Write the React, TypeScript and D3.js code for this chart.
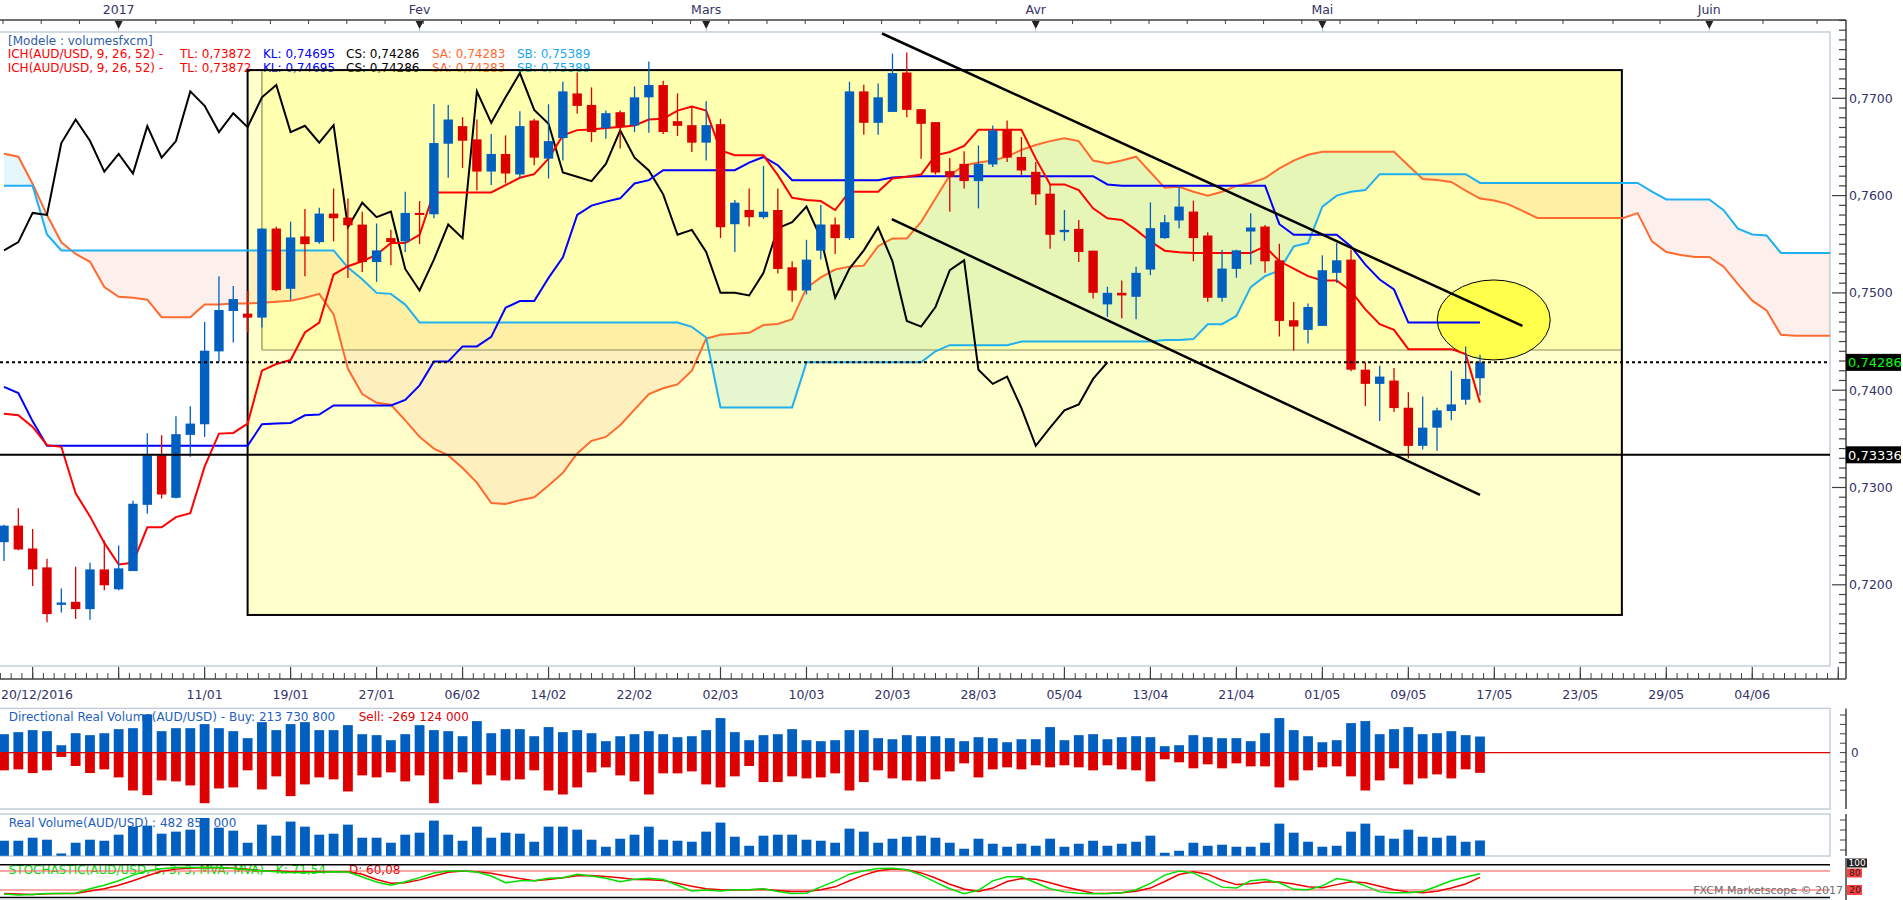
import React, { useEffect } from "react";
import * as d3 from "d3";

// AUD/USD daily, Ichimoku + volumes (FXCM Marketscope look)
// bar index -2 .. 101 for candles, -2 .. 127 for the forward cloud

const candleOpen = [
  0.72438, 0.72608, 0.72373, 0.72179, 0.71794, 0.71825, 0.7175, 0.72158, 0.71954, 0.72141,
  0.72822, 0.7333, 0.72894, 0.73541, 0.7365, 0.74399, 0.74814, 0.74787, 0.74746, 0.75661,
  0.75042, 0.7558, 0.75522, 0.75815, 0.75774, 0.75702, 0.75317, 0.75563, 0.75529, 0.75822,
  0.75808, 0.76533, 0.76714, 0.76578, 0.76247, 0.76428, 0.76217, 0.76772, 0.7638, 0.76591,
  0.7705, 0.76932, 0.76694, 0.76857, 0.76721, 0.7701, 0.77136, 0.76765, 0.76724, 0.76544,
  0.76734, 0.75706, 0.75852, 0.75778, 0.75852, 0.75263, 0.75025, 0.75434, 0.75703, 0.75563,
  0.77071, 0.76748, 0.7686, 0.77265, 0.76888, 0.76755, 0.76251, 0.76326, 0.76149, 0.7632,
  0.7668, 0.76397, 0.76244, 0.7602, 0.75624, 0.75658, 0.75434, 0.74882, 0.75001, 0.7496,
  0.7524, 0.75563, 0.75744, 0.75836, 0.7559, 0.7495, 0.75247, 0.75631, 0.75682, 0.75335,
  0.74719, 0.7462, 0.74661, 0.75206, 0.75342, 0.74211, 0.74065, 0.74099, 0.7382, 0.73428,
  0.73615, 0.73786, 0.73902, 0.74123,
];
const candleHigh = [
  0.72618, 0.72788, 0.72574, 0.72267, 0.71961, 0.72186, 0.72227, 0.72455, 0.72404, 0.72863,
  0.73558, 0.73537, 0.73731, 0.73834, 0.74702, 0.75172, 0.7507, 0.75019, 0.75661, 0.7568,
  0.75733, 0.75862, 0.75876, 0.76073, 0.75971, 0.75835, 0.75713, 0.75648, 0.7604, 0.75944,
  0.76942, 0.76932, 0.76806, 0.76782, 0.76632, 0.76619, 0.76867, 0.76789, 0.76939, 0.7717,
  0.77266, 0.77112, 0.76874, 0.76874, 0.77122, 0.77378, 0.7718, 0.77051, 0.76908, 0.76969,
  0.76789, 0.75955, 0.76074, 0.76305, 0.76074, 0.75325, 0.75546, 0.75904, 0.75774, 0.7717,
  0.7714, 0.77153, 0.7746, 0.7747, 0.76888, 0.76755, 0.76387, 0.76455, 0.76516, 0.76721,
  0.76772, 0.76602, 0.76346, 0.76108, 0.75852, 0.7575, 0.75434, 0.75063, 0.75127, 0.7527,
  0.75931, 0.75801, 0.76101, 0.75948, 0.75624, 0.75444, 0.75444, 0.75819, 0.75699, 0.75505,
  0.74906, 0.74892, 0.75386, 0.75512, 0.75444, 0.74286, 0.74252, 0.74228, 0.7398, 0.73936,
  0.7382, 0.74201, 0.7445, 0.74365,
];
const candleLow = [
  0.72244, 0.72356, 0.71988, 0.71614, 0.71716, 0.71648, 0.71641, 0.71944, 0.71944, 0.72141,
  0.7273, 0.72887, 0.72887, 0.73316, 0.7352, 0.74293, 0.74491, 0.74593, 0.74644, 0.75018,
  0.74926, 0.75171, 0.75505, 0.75529, 0.75154, 0.75215, 0.75113, 0.75284, 0.7542, 0.75502,
  0.75767, 0.76183, 0.76285, 0.76053, 0.76108, 0.76125, 0.76176, 0.76312, 0.76176, 0.7636,
  0.7684, 0.76551, 0.76585, 0.76483, 0.76653, 0.76646, 0.76632, 0.76612, 0.76448, 0.7636,
  0.75563, 0.7542, 0.75682, 0.75761, 0.752, 0.74909, 0.74984, 0.75342, 0.754, 0.75543,
  0.76625, 0.76625, 0.7686, 0.76806, 0.7638, 0.76217, 0.75833, 0.76074, 0.75869, 0.76295,
  0.76346, 0.7621, 0.75904, 0.75454, 0.75536, 0.75318, 0.74943, 0.74753, 0.74739, 0.74729,
  0.75182, 0.75556, 0.75665, 0.75325, 0.74909, 0.74909, 0.75155, 0.75291, 0.75206, 0.74552,
  0.74405, 0.7448, 0.74661, 0.75103, 0.74194, 0.73837, 0.73684, 0.73776, 0.73299, 0.7339,
  0.73377, 0.7369, 0.7385, 0.73946,
];
const candleClose = [
  0.72608, 0.72363, 0.72158, 0.71699, 0.71818, 0.7175, 0.72158, 0.71995, 0.72169, 0.72833,
  0.7333, 0.72928, 0.73548, 0.73657, 0.74406, 0.74824, 0.74937, 0.74746, 0.75661, 0.75028,
  0.7557, 0.75501, 0.75815, 0.75767, 0.75695, 0.75317, 0.75437, 0.75522, 0.75822, 0.75801,
  0.7654, 0.76782, 0.76564, 0.76247, 0.76428, 0.76227, 0.76714, 0.7639, 0.7656, 0.77071,
  0.76922, 0.76653, 0.76847, 0.76704, 0.7701, 0.77136, 0.76653, 0.76717, 0.76544, 0.76724,
  0.75675, 0.75927, 0.75778, 0.75835, 0.75246, 0.75025, 0.75342, 0.75703, 0.75563, 0.77071,
  0.76748, 0.7701, 0.77259, 0.76881, 0.76738, 0.76237, 0.76193, 0.76149, 0.76326, 0.7667,
  0.7639, 0.76258, 0.76013, 0.75597, 0.75648, 0.7542, 0.75001, 0.75001, 0.74974, 0.75206,
  0.75665, 0.75726, 0.75887, 0.75563, 0.7495, 0.7525, 0.75437, 0.75672, 0.75325, 0.74712,
  0.74654, 0.74855, 0.75233, 0.75335, 0.74211, 0.74065, 0.7414, 0.73816, 0.73428, 0.73615,
  0.73793, 0.73854, 0.74116, 0.74286,
];

const tenkan = [
  0.73759, 0.73742, 0.73622, 0.73435, 0.73418, 0.72941, 0.72703, 0.72431, 0.72209, 0.72226,
  0.72591, 0.72591, 0.72696, 0.72737, 0.73214, 0.73554, 0.73561, 0.73657, 0.74201, 0.74269,
  0.7431, 0.74593, 0.74695, 0.75189, 0.75274, 0.75325, 0.75392, 0.75512, 0.75512, 0.75597,
  0.76033, 0.76033, 0.76033, 0.76033, 0.76033, 0.76108, 0.76183, 0.7622, 0.7638, 0.76619,
  0.76673, 0.7668, 0.76694, 0.76704, 0.76721, 0.76782, 0.76789, 0.76874, 0.76915, 0.76874,
  0.76465, 0.76414, 0.76414, 0.76414, 0.7621, 0.75978, 0.75955, 0.75944, 0.75852, 0.7604,
  0.7604, 0.7604, 0.76176, 0.76193, 0.76217, 0.76414, 0.76448, 0.7651, 0.76677, 0.76677,
  0.76677, 0.76677, 0.7638, 0.76115, 0.76115, 0.76057, 0.75869, 0.75767, 0.7575, 0.75648,
  0.75529, 0.75434, 0.75417, 0.7541, 0.7541, 0.7541, 0.7541, 0.7541, 0.75478, 0.75325,
  0.7525, 0.75172, 0.75127, 0.75127, 0.75018, 0.74831, 0.74678, 0.7462, 0.74422, 0.74422,
  0.74422, 0.74422, 0.74371, 0.73872,
];
const kijun = [
  0.74035, 0.7397, 0.7368, 0.73428, 0.73428, 0.73428, 0.73428, 0.73428, 0.73428, 0.73428,
  0.73428, 0.73428, 0.73428, 0.73428, 0.73428, 0.73428, 0.73428, 0.73428, 0.7365, 0.73657,
  0.73663, 0.73742, 0.73749, 0.73844, 0.73844, 0.73844, 0.73844, 0.73844, 0.739, 0.7405,
  0.74296, 0.74296, 0.7445, 0.7445, 0.74548, 0.74848, 0.74916, 0.74916, 0.75154, 0.75365,
  0.75801, 0.75897, 0.75938, 0.75972, 0.76125, 0.76159, 0.76261, 0.76261, 0.76261, 0.76261,
  0.76261, 0.76261, 0.76339, 0.76397, 0.76312, 0.76159, 0.76159, 0.76159, 0.76159, 0.76159,
  0.76159, 0.76159, 0.76186, 0.76193, 0.762, 0.762, 0.762, 0.762, 0.762, 0.762,
  0.762, 0.762, 0.762, 0.762, 0.762, 0.762, 0.762, 0.76115, 0.76101, 0.76101,
  0.76101, 0.76101, 0.76101, 0.76101, 0.76101, 0.76101, 0.76101, 0.76101, 0.76101, 0.75706,
  0.75597, 0.75597, 0.75597, 0.75597, 0.75478, 0.75291, 0.75138, 0.75035, 0.74695, 0.74695,
  0.74695, 0.74695, 0.74695, 0.74695,
];
const senkouA = [
  0.7643, 0.764, 0.7612, 0.758, 0.7552, 0.754, 0.7532, 0.7506, 0.7496, 0.7495,
  0.7493, 0.7475, 0.7475, 0.7475, 0.7488, 0.7488, 0.7489, 0.7489, 0.749, 0.7491,
  0.7492, 0.7495, 0.7499, 0.7478, 0.7422, 0.7396, 0.7387, 0.7385, 0.7369, 0.7352,
  0.734, 0.7333, 0.732, 0.7305, 0.7284, 0.7283, 0.7287, 0.729, 0.7302, 0.7315,
  0.7335, 0.7348, 0.7352, 0.7364, 0.738, 0.7396, 0.7402, 0.7406, 0.742, 0.7453,
  0.7457, 0.7458, 0.7459, 0.7467, 0.7468, 0.7473, 0.7505, 0.7516, 0.7524, 0.7527,
  0.7528, 0.7548, 0.7556, 0.7556, 0.7573, 0.7597, 0.7621, 0.7631, 0.7634, 0.7636,
  0.764, 0.7647, 0.7652, 0.7656, 0.7659, 0.7656, 0.7636, 0.7633, 0.7636, 0.764,
  0.7624, 0.7608, 0.7609, 0.7604, 0.76, 0.7604, 0.761, 0.7613, 0.7618, 0.7628,
  0.7636, 0.7642, 0.7645, 0.7645, 0.7645, 0.7645, 0.7645, 0.7645, 0.7631, 0.7617,
  0.7616, 0.7614, 0.7605, 0.7597, 0.7595, 0.7591, 0.7584, 0.7577, 0.7577, 0.7577,
  0.7577, 0.7577, 0.7577, 0.7577, 0.7582, 0.7553, 0.7542, 0.7539, 0.7537, 0.7537,
  0.7527, 0.7509, 0.7492, 0.7482, 0.7457, 0.7456, 0.7456, 0.7456, 0.7456, 0.7456,
];
const senkouB = [
  0.761, 0.761, 0.761, 0.756, 0.75437, 0.75437, 0.75437, 0.75437, 0.75437, 0.75437,
  0.75437, 0.75437, 0.75437, 0.75437, 0.75437, 0.75437, 0.75437, 0.75437, 0.75437, 0.75437,
  0.75437, 0.75437, 0.75437, 0.75437, 0.7526, 0.7514, 0.75, 0.7499, 0.7488, 0.74695,
  0.74695, 0.74695, 0.74695, 0.74695, 0.74695, 0.74695, 0.74695, 0.74695, 0.74695, 0.74695,
  0.74695, 0.74695, 0.74695, 0.74695, 0.74695, 0.74695, 0.74695, 0.74695, 0.74651, 0.74541,
  0.73823, 0.73823, 0.73823, 0.73823, 0.73823, 0.73823, 0.74286, 0.74286, 0.74286, 0.74286,
  0.74286, 0.74286, 0.74286, 0.74286, 0.74286, 0.744, 0.74463, 0.74463, 0.74463, 0.74463,
  0.74463, 0.745, 0.745, 0.745, 0.745, 0.745, 0.745, 0.745, 0.745, 0.745,
  0.745, 0.74517, 0.74517, 0.74525, 0.74678, 0.74678, 0.74763, 0.75059, 0.75172, 0.7523,
  0.75478, 0.75512, 0.75887, 0.76, 0.7604, 0.76057, 0.7622, 0.7622, 0.7622, 0.7622,
  0.7622, 0.7622, 0.7622, 0.7613, 0.7613, 0.7613, 0.7613, 0.7613, 0.7613, 0.7613,
  0.7613, 0.7613, 0.7613, 0.7613, 0.7613, 0.7604, 0.7596, 0.7596, 0.7596, 0.7596,
  0.7585, 0.7566, 0.756, 0.7559, 0.7541, 0.7541, 0.7541, 0.7541, 0.7541, 0.7541,
];

// volumes in millions
const buyVolume = [
  245, 272, 299, 285, 98, 258, 232, 258, 312, 325,
  508, 285, 325, 325, 379, 325, 285, 192, 405, 299,
  379, 405, 299, 299, 365, 245, 232, 165, 245, 365,
  299, 285, 218, 419, 258, 312, 312, 218, 339, 272,
  299, 258, 152, 218, 245, 285, 245, 205, 218, 299,
  459, 272, 165, 232, 245, 312, 165, 152, 165, 299,
  299, 192, 178, 232, 218, 218, 192, 152, 205, 192,
  138, 178, 178, 339, 165, 232, 245, 178, 205, 218,
  205, 85, 98, 232, 205, 192, 192, 152, 258, 459,
  299, 218, 138, 165, 392, 419, 245, 312, 339, 245,
  258, 285, 232, 213.7,
];
const sellVolume = [
  236, 223, 272, 236, 58, 178, 272, 223, 330, 504,
  566, 370, 383, 437, 673, 477, 463, 236, 490, 316,
  579, 423, 330, 356, 517, 303, 330, 263, 383, 303,
  673, 356, 263, 423, 303, 370, 356, 236, 504, 557,
  463, 263, 196, 303, 383, 557, 276, 276, 250, 423,
  463, 316, 178, 392, 392, 316, 343, 330, 276, 504,
  392, 236, 343, 370, 383, 356, 250, 143, 330, 223,
  196, 223, 169, 196, 169, 196, 236, 169, 223, 236,
  383, 89, 129, 209, 156, 209, 143, 183, 183, 463,
  370, 236, 196, 183, 316, 504, 370, 209, 423, 343,
  290, 343, 223, 269.1,
];
const realVolume = [
  477, 477, 553, 503, 158, 427, 503, 477, 629, 831,
  856, 654, 705, 755, 1049, 805, 730, 427, 881, 604,
  957, 831, 629, 654, 881, 553, 553, 427, 629, 679,
  982, 629, 477, 831, 553, 679, 654, 452, 831, 831,
  755, 503, 326, 528, 629, 831, 503, 477, 452, 705,
  932, 578, 351, 604, 629, 629, 503, 477, 427, 780,
  705, 427, 528, 578, 604, 553, 427, 276, 528, 402,
  326, 402, 351, 528, 326, 402, 477, 351, 402, 452,
  604, 175, 225, 427, 351, 377, 326, 326, 427, 906,
  679, 452, 326, 351, 705, 906, 604, 528, 755, 578,
  553, 604, 452, 482.9,
];
const stochK = [
  7, 4, 6, 9, 9, 10, 24, 35, 49, 67,
  81, 87, 91, 91, 91, 91, 88, 84, 81, 78,
  75, 75, 76, 78, 77, 61, 45, 35, 46, 59,
  74, 80, 80, 77, 64, 43, 49, 49, 57, 59,
  70, 64, 57, 46, 54, 57, 53, 35, 17, 20,
  17, 21, 21, 24, 15, 9, 10, 30, 48, 70,
  81, 88, 89, 84, 67, 45, 24, 8, 19, 49,
  62, 62, 43, 24, 14, 10, 8, 9, 11, 21,
  41, 67, 80, 74, 51, 29, 26, 49, 53, 43,
  22, 21, 33, 56, 49, 33, 14, 11, 11, 15,
  32, 49, 61, 71.54,
];
const stochD = [
  9, 7, 6, 8, 9, 9, 17, 24, 35, 49,
  65, 79, 86, 89, 91, 90, 89, 86, 81, 80,
  78, 78, 78, 78, 78, 70, 53, 41, 43, 52,
  64, 76, 80, 78, 73, 64, 56, 49, 53, 59,
  65, 66, 63, 59, 53, 52, 50, 41, 32, 24,
  21, 20, 21, 22, 18, 15, 15, 21, 30, 49,
  67, 81, 86, 84, 74, 58, 38, 23, 15, 26,
  47, 56, 54, 43, 30, 20, 10, 9, 11, 16,
  26, 47, 69, 78, 70, 51, 37, 40, 45, 45,
  39, 30, 27, 37, 46, 43, 32, 21, 14, 11,
  16, 26, 39, 60.08,
];

// axis labels
const dateTickLabels = [
  "20/12/2016", "", "11/01", "19/01", "27/01", "06/02", "14/02", "22/02", "02/03", "10/03",
  "20/03", "28/03", "05/04", "13/04", "21/04", "01/05", "09/05", "17/05", "23/05", "29/05", "04/06", "",
];
const monthLabels = ["2017", "Fev", "Mars", "Avr", "Mai", "Juin"];
const monthBars = [6, 27, 47, 70, 90, 117];
const priceLabels = [0.72, 0.73, 0.74, 0.75, 0.76, 0.77];

// drawn annotations (bar index, price)
const boxOuter = { j0: 15, j1: 110.9, top: 0.7729, bottom: 0.7169 };
const boxInner = { j0: 16, j1: 110.9, top: 0.7729, bottom: 0.74413 };
const trendUpper = [[59.27, 0.77666], [103.96, 0.7466]];
const trendLower = [[59.95, 0.75759], [101.0, 0.72923]];
const ellipseBox = { j0: 98.02, j1: 105.9, top: 0.75133, bottom: 0.74311 };
const levelDotted = 0.74286;
const levelSolid = 0.73336;

const W = 1903;
const H = 900;
const FONT = "'DejaVu Sans', Verdana, sans-serif";
const BLUE = "#005FBF";
const RED = "#DD0000";
const AXIS = "#404040";
const LABEL = "#333366";
const BORDER = "#C3CEDA";

const fmtPrice = (v: number) => v.toFixed(4).replace(".", ",");

export default function App() {
  useEffect(() => {
    document.body.style.margin = "0";
  }, []);

  const plotRight = 1830;
  const axisX = 1846;
  const plotTop = 32;
  const plotBottom = 666;
  const xAxisY = 679;

  const x = d3.scaleLinear().domain([-2, 101]).range([4, 1480]);
  const y = d3.scaleLinear().domain([0.72, 0.77]).range([584.8, 98.3]);

  const bars = d3.range(-2, 102);
  const cloudBars = d3.range(-2, 128);
  const chikouBars = d3.range(-2, 76);
  const at = (arr: number[]) => (j: number) => arr[j + 2];

  const lineOf = (arr: number[], js: number[]) =>
    d3.line<number>().x((j) => x(j)).y((j) => y(at(arr)(j)))(js) || "";

  // lagging line: close of bar j+26 drawn at bar j
  const chikouPath =
    d3.line<number>().x((j) => x(j)).y((j) => y(candleClose[j + 28]))(chikouBars) || "";

  const cloudArea =
    d3.area<number>().x((j) => x(j)).y0((j) => y(at(senkouB)(j))).y1((j) => y(at(senkouA)(j)))(cloudBars) || "";
  const aboveB =
    d3.area<number>().x((j) => x(j)).y0(0).y1((j) => y(at(senkouB)(j)))(cloudBars) || "";
  const belowB =
    d3.area<number>().x((j) => x(j)).y0(H).y1((j) => y(at(senkouB)(j)))(cloudBars) || "";

  // lower panels
  const yDir = d3.scaleLinear().domain([-400, 400]).range([752.6 + 400 / 13.3, 752.6 - 400 / 13.3]);
  const yRv = d3.scaleLinear().domain([99, 1148]).range([855.8, 814]);
  const yStoch = d3.scaleLinear().domain([0, 100]).range([896.3, 864.7]);

  const stochLine = (arr: number[]) =>
    d3.line<number>().x((j) => x(j)).y((j) => yStoch(at(arr)(j)))(bars) || "";

  // ticks
  const majorTicks = d3.range(0, 22).map((k) => k * 6);
  const minorTicks = d3.range(-2.25, 127, 0.75).filter((j) => x(j) <= axisX);
  const priceTicks = d3.range(712, 779).map((v) => v / 1000).filter((p) => y(p) >= 20 && y(p) <= xAxisY);
  const topTicks = d3.range(3, 1500, 38.2).concat([1516, 1563, 1613, 1660, 1763, 1817]);
  const dirTicks = d3.range(-4, 5).map((k) => k * 125).filter((v) => yDir(v) > 709 && yDir(v) < 808);

  const legendSegs = [
    { x: 7.7, t: "ICH(AUD/USD, 9, 26, 52) -", c: "#FF0000" },
    { x: 180, t: "TL: 0,73872", c: "#FF0000" },
    { x: 263, t: "KL: 0,74695", c: "#0000FF" },
    { x: 346, t: "CS: 0,74286", c: "#000000" },
    { x: 432, t: "SA: 0,74283", c: "#FF6A30" },
    { x: 517, t: "SB: 0,75389", c: "#1AA8F0" },
  ];

  const ex0 = x(ellipseBox.j0);
  const ex1 = x(ellipseBox.j1);
  const ey0 = y(ellipseBox.top);
  const ey1 = y(ellipseBox.bottom);

  return (
    <svg
      width={W}
      height={H}
      style={{ position: "absolute", left: 0, top: 0, display: "block", background: "#fff", fontFamily: FONT }}
    >
      <defs>
        <clipPath id="plotClip">
          <rect x={0} y={plotTop} width={plotRight} height={plotBottom - plotTop} />
        </clipPath>
        <clipPath id="aboveB">
          <path d={aboveB} />
        </clipPath>
        <clipPath id="belowB">
          <path d={belowB} />
        </clipPath>
      </defs>
      <rect x={0} y={0} width={W} height={H} fill="#fff" />

      {/* top time axis */}
      <line x1={0} x2={axisX} y1={20} y2={20} stroke={AXIS} strokeWidth={1.5} />
      {topTicks.map((tx, i) => (
        <line key={i} x1={tx} x2={tx} y1={20} y2={24} stroke={AXIS} />
      ))}
      {monthLabels.map((m, i) => {
        const mx = x(monthBars[i]);
        return (
          <g key={m}>
            <path d={`M${mx - 4},21 L${mx + 4},21 L${mx},29 Z`} fill="#222" />
            <line x1={mx} x2={mx} y1={29} y2={plotTop} stroke="#B8C4D0" />
            <text x={mx} y={13.5} fontSize={12.5} fill={LABEL} textAnchor="middle">
              {m}
            </text>
          </g>
        );
      })}

      {/* legend */}
      <text x={8} y={45} fontSize={12} fill="#2F5DA8">
        [Modele : volumesfxcm]
      </text>
      {[58.3, 72].map((ly) => (
        <g key={ly}>
          {legendSegs.map((s) => (
            <text key={s.t} x={s.x} y={ly} fontSize={12} fill={s.c}>
              {s.t}
            </text>
          ))}
        </g>
      ))}

      {/* plot frame */}
      <rect x={-1} y={plotTop} width={plotRight + 1} height={plotBottom - plotTop} fill="none" stroke={BORDER} strokeWidth={1.5} />

      <g clipPath="url(#plotClip)">
        {/* yellow boxes (fill) */}
        <rect
          x={x(boxOuter.j0)}
          y={y(boxOuter.top)}
          width={x(boxOuter.j1) - x(boxOuter.j0)}
          height={y(boxOuter.bottom) - y(boxOuter.top)}
          fill="rgba(255,255,0,0.2)"
        />
        <rect
          x={x(boxInner.j0)}
          y={y(boxInner.top)}
          width={x(boxInner.j1) - x(boxInner.j0)}
          height={y(boxInner.bottom) - y(boxInner.top)}
          fill="rgba(255,255,0,0.137)"
        />

        {/* cloud */}
        <path d={cloudArea} fill="rgba(30,170,240,0.11)" clipPath="url(#aboveB)" />
        <path d={cloudArea} fill="rgba(240,110,70,0.10)" clipPath="url(#belowB)" />

        {/* box borders */}
        <line
          x1={x(boxInner.j0)}
          x2={x(boxInner.j0)}
          y1={y(boxInner.top)}
          y2={y(boxInner.bottom)}
          stroke="#8C8C5C"
          strokeWidth={1.2}
        />
        <line
          x1={x(boxInner.j0)}
          x2={x(boxInner.j1)}
          y1={y(boxInner.bottom)}
          y2={y(boxInner.bottom)}
          stroke="#8C8C5C"
          strokeWidth={1.2}
        />
        <rect
          x={x(boxOuter.j0)}
          y={y(boxOuter.top)}
          width={x(boxOuter.j1) - x(boxOuter.j0)}
          height={y(boxOuter.bottom) - y(boxOuter.top)}
          fill="none"
          stroke="#000"
          strokeWidth={2}
        />

        {/* highlight ellipse */}
        <ellipse
          cx={(ex0 + ex1) / 2}
          cy={(ey0 + ey1) / 2}
          rx={(ex1 - ex0) / 2}
          ry={(ey1 - ey0) / 2}
          fill="#FFFF4C"
          stroke="#000"
          strokeWidth={1}
        />

        {/* ichimoku lines */}
        <path d={lineOf(senkouA, cloudBars)} fill="none" stroke="#FF6A30" strokeWidth={2} />
        <path d={lineOf(senkouB, cloudBars)} fill="none" stroke="#20B0F0" strokeWidth={2} />
        <path d={chikouPath} fill="none" stroke="#000" strokeWidth={2} />
        <path d={lineOf(kijun, bars)} fill="none" stroke="#0000FF" strokeWidth={2} />
        <path d={lineOf(tenkan, bars)} fill="none" stroke="#FF0000" strokeWidth={2} />

        {/* candles */}
        {bars.map((j) => {
          const o = at(candleOpen)(j);
          const c = at(candleClose)(j);
          const h = at(candleHigh)(j);
          const l = at(candleLow)(j);
          const col = c >= o ? BLUE : RED;
          const top = y(Math.max(o, c));
          const bot = y(Math.min(o, c));
          const cx = x(j);
          return (
            <g key={j}>
              <line x1={cx} x2={cx} y1={y(h)} y2={y(l)} stroke={col} strokeWidth={1.3} />
              <rect x={cx - 4.7} y={top} width={9.4} height={Math.max(bot - top, 2)} fill={col} />
            </g>
          );
        })}

        {/* horizontal levels */}
        <line x1={0} x2={plotRight} y1={y(levelDotted)} y2={y(levelDotted)} stroke="#000" strokeWidth={2} strokeDasharray="3,3" />
        <line x1={0} x2={plotRight} y1={y(levelSolid)} y2={y(levelSolid)} stroke="#000" strokeWidth={2} />

        {/* trend lines */}
        {[trendUpper, trendLower].map((t, i) => (
          <line
            key={i}
            x1={x(t[0][0])}
            y1={y(t[0][1])}
            x2={x(t[1][0])}
            y2={y(t[1][1])}
            stroke="#000"
            strokeWidth={2.5}
          />
        ))}
      </g>

      {/* right price axis */}
      <line x1={axisX} x2={axisX} y1={20} y2={xAxisY} stroke={AXIS} strokeWidth={1.5} />
      {priceTicks.map((p) => {
        const major = Math.round(p * 1000) % 10 === 0;
        return (
          <line key={p} x1={axisX - (major ? 14 : 7)} x2={axisX} y1={y(p)} y2={y(p)} stroke={AXIS} strokeWidth={1.2} />
        );
      })}
      {priceLabels.map((p) => (
        <text key={p} x={axisX + 3} y={y(p) + 4.5} fontSize={12.5} fill={LABEL}>
          {fmtPrice(p)}
        </text>
      ))}
      <rect x={axisX} y={y(levelDotted) - 8.5} width={55} height={17} fill="#000" />
      <text x={axisX + 2} y={y(levelDotted) + 5} fontSize={13} fill="#00FF00">
        {levelDotted.toFixed(5).replace(".", ",")}
      </text>
      <rect x={axisX} y={y(levelSolid) - 8.5} width={55} height={17} fill="#000" />
      <text x={axisX + 2} y={y(levelSolid) + 5} fontSize={13} fill="#FFFFFF">
        {levelSolid.toFixed(5).replace(".", ",")}
      </text>

      {/* bottom date axis */}
      <line x1={0} x2={axisX} y1={xAxisY} y2={xAxisY} stroke={AXIS} strokeWidth={1.5} />
      {minorTicks.map((j) => (
        <line key={j} x1={x(j)} x2={x(j)} y1={xAxisY - 6} y2={xAxisY} stroke={AXIS} />
      ))}
      {majorTicks.map((j, i) => (
        <g key={j}>
          <line x1={x(j)} x2={x(j)} y1={xAxisY - 12} y2={xAxisY} stroke={AXIS} strokeWidth={1.2} />
          {dateTickLabels[i] ? (
            <text x={Math.max(x(j), 37)} y={698.5} fontSize={12.5} fill={LABEL} textAnchor="middle">
              {dateTickLabels[i]}
            </text>
          ) : null}
        </g>
      ))}

      {/* directional real volume panel */}
      <rect x={-1} y={708.4} width={plotRight + 1} height={100.6} fill="none" stroke={BORDER} strokeWidth={1.5} />
      <text x={8.7} y={721} fontSize={12} fill="#1E5EBE">
        Directional Real Volume(AUD/USD) -  Buy: 213 730 800
      </text>
      <text x={358.7} y={721} fontSize={12} fill="#E00000">
        Sell: -269 124 000
      </text>
      {bars.map((j) => (
        <g key={j}>
          <rect x={x(j) - 4.9} y={yDir(at(buyVolume)(j))} width={9.8} height={yDir(0) - yDir(at(buyVolume)(j))} fill={BLUE} />
          <rect x={x(j) - 4.9} y={yDir(0)} width={9.8} height={yDir(-at(sellVolume)(j)) - yDir(0)} fill={RED} />
        </g>
      ))}
      <line x1={0} x2={plotRight} y1={yDir(0)} y2={yDir(0)} stroke="#E00000" strokeWidth={1.2} />
      <line x1={axisX} x2={axisX} y1={708.4} y2={809} stroke={AXIS} strokeWidth={1.5} />
      {dirTicks.map((v) => (
        <line key={v} x1={axisX - 6} x2={axisX} y1={yDir(v)} y2={yDir(v)} stroke={AXIS} />
      ))}
      <text x={axisX + 5} y={yDir(0) + 4.5} fontSize={12} fill={LABEL}>
        0
      </text>

      {/* real volume panel */}
      <rect x={-1} y={814} width={plotRight + 1} height={42} fill="none" stroke={BORDER} strokeWidth={1.5} />
      <text x={8.7} y={826.5} fontSize={12} fill="#1E5EBE">
        Real Volume(AUD/USD) : 482 855 000
      </text>
      {bars.map((j) => (
        <rect key={j} x={x(j) - 4.9} y={yRv(at(realVolume)(j))} width={9.8} height={yRv(99) - yRv(at(realVolume)(j))} fill={BLUE} />
      ))}
      <line x1={axisX} x2={axisX} y1={814} y2={856} stroke={AXIS} strokeWidth={1.5} />
      {[0, 1, 2, 3].map((k) => (
        <line key={k} x1={axisX - 6} x2={axisX} y1={820 + k * 10} y2={820 + k * 10} stroke={AXIS} />
      ))}

      {/* stochastic panel */}
      <text x={8.7} y={873.5} fontSize={12} fill="#00DD00">
        STOCHASTIC(AUD/USD, 5, 3, 3, MVA, MVA) - K: 71,54
      </text>
      <text x={349} y={873.5} fontSize={12} fill="#E00000">
        D: 60,08
      </text>
      <line x1={0} x2={plotRight} y1={yStoch(100)} y2={yStoch(100)} stroke="#000" strokeWidth={1.5} />
      <line x1={0} x2={plotRight} y1={yStoch(0) + 1.2} y2={yStoch(0) + 1.2} stroke="#000" strokeWidth={1.5} />
      <line x1={0} x2={plotRight} y1={yStoch(80)} y2={yStoch(80)} stroke="#FF5050" strokeWidth={1.2} />
      <line x1={0} x2={plotRight} y1={yStoch(20)} y2={yStoch(20)} stroke="#FF5050" strokeWidth={1.2} />
      <line x1={0} x2={plotRight} y1={899} y2={899} stroke={BORDER} strokeWidth={1.2} />
      <path d={stochLine(stochD)} fill="none" stroke="#EE0000" strokeWidth={1.5} />
      <path d={stochLine(stochK)} fill="none" stroke="#00E000" strokeWidth={1.5} />
      <line x1={axisX} x2={axisX} y1={858} y2={900} stroke={AXIS} strokeWidth={1.5} />
      <rect x={axisX + 1} y={858.5} width={20} height={9} fill="#222" />
      <text x={axisX + 2.5} y={866} fontSize={9} fill="#FFFFFF">
        100
      </text>
      <rect x={axisX + 1} y={868.5} width={15} height={9} fill="#FF4040" />
      <text x={axisX + 3} y={876} fontSize={9} fill="#222">
        80
      </text>
      <rect x={axisX + 1} y={yStoch(20) - 5} width={15} height={10} fill="#FF4040" />
      <text x={axisX + 3} y={yStoch(20) + 3.5} fontSize={9.5} fill="#222">
        20
      </text>
      <text x={1843} y={894} fontSize={11} fill="#6E6E6E" textAnchor="end">
        FXCM Marketscope © 2017
      </text>
    </svg>
  );
}
